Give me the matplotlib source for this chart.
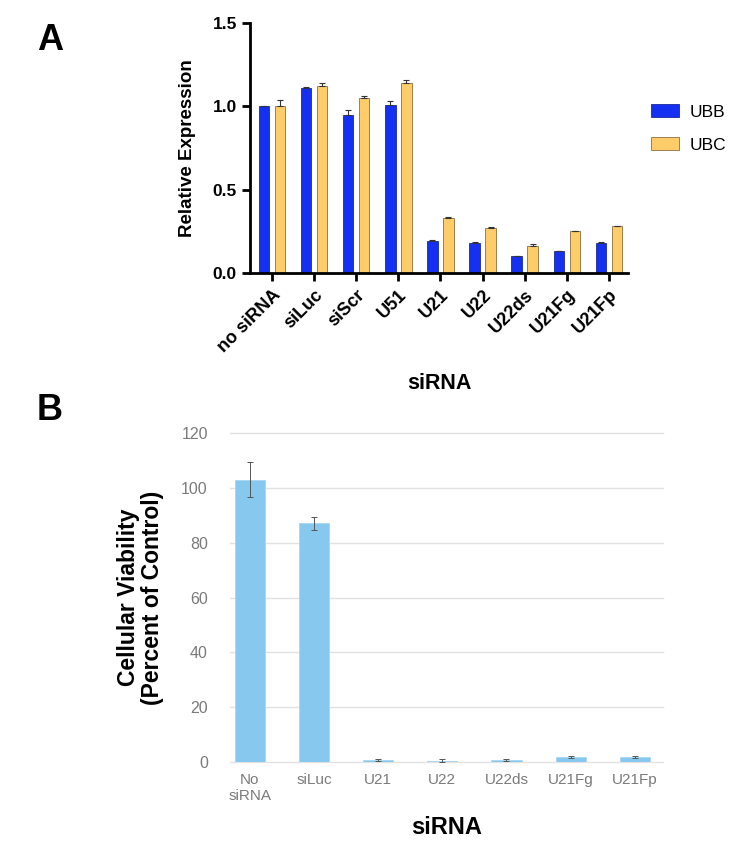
import numpy as np
import matplotlib
matplotlib.use('Agg')
import matplotlib.pyplot as plt

plt.rcParams['font.family'] = ['Liberation Sans', 'DejaVu Sans']

# panel A data
groups_a = ['no siRNA', 'siLuc', 'siScr', 'U51', 'U21', 'U22', 'U22ds', 'U21Fg', 'U21Fp']
ubb = [1.00, 1.11, 0.95, 1.01, 0.19, 0.18, 0.10, 0.13, 0.18]
ubb_err = [0.005, 0.005, 0.03, 0.025, 0.01, 0.005, 0.005, 0.005, 0.005]
ubc = [1.00, 1.12, 1.05, 1.14, 0.33, 0.27, 0.16, 0.25, 0.28]
ubc_err = [0.04, 0.02, 0.015, 0.02, 0.005, 0.005, 0.015, 0.005, 0.005]
series_names = ['UBB', 'UBC']

# panel B data
groups_b = ['No\nsiRNA', 'siLuc', 'U21', 'U22', 'U22ds', 'U21Fg', 'U21Fp']
viability = [103, 87, 0.8, 0.5, 0.8, 1.8, 1.8]
viability_err = [6.5, 2.5, 0.3, 0.5, 0.3, 0.4, 0.4]

W, H = 730, 842
fig = plt.figure(figsize=(W / 100, H / 100), dpi=100)
fig.patch.set_facecolor('white')

def box(l, t, r, b):
    return [l / W, 1 - b / H, (r - l) / W, (b - t) / H]

# ---- panel A ----
ax = fig.add_axes(box(250, 23, 628, 273))
x = np.arange(len(groups_a))
off, bw = 0.19, 0.25
blue = '#1530f0'
yellow = '#ffcc6a'
b1 = ax.bar(x - off, ubb, bw, color=blue, edgecolor='#1a2a9a', linewidth=0.6,
            yerr=[np.zeros(len(ubb)), ubb_err], capsize=2.5,
            error_kw=dict(ecolor='#333333', elinewidth=0.8, capthick=0.8), label=series_names[0])
b2 = ax.bar(x + off, ubc, bw, color=yellow, edgecolor='#8a7040', linewidth=0.6,
            yerr=[np.zeros(len(ubc)), ubc_err], capsize=2.5,
            error_kw=dict(ecolor='#333333', elinewidth=0.8, capthick=0.8), label=series_names[1])
ax.set_xlim(-0.52, 8.45)
ax.set_ylim(0, 1.5)
ax.set_yticks([0, 0.5, 1.0, 1.5])
ax.set_yticklabels(['0.0', '0.5', '1.0', '1.5'])
ax.set_xticks(x)
ax.set_xticklabels(groups_a, rotation=45, ha='right', rotation_mode='anchor')
for s in ['top', 'right']:
    ax.spines[s].set_visible(False)
for s in ['left', 'bottom']:
    ax.spines[s].set_linewidth(2)
ax.tick_params(axis='both', width=2, length=6)
ax.tick_params(axis='y', labelsize=12.5)
ax.tick_params(axis='x', labelsize=13)
for lbl in ax.get_xticklabels() + ax.get_yticklabels():
    lbl.set_fontweight('bold')
ax.set_ylabel('Relative Expression', fontsize=13.5, fontweight='bold')
ax.yaxis.set_label_coords(-0.143, 0.5)
ax.set_xlabel('siRNA', fontsize=15.5, fontweight='bold')
ax.xaxis.set_label_coords(0.5, -0.40)
# legend sits at the right edge, as in the original figure
fig.legend(handles=[b1, b2], labels=series_names, loc='upper left',
           bbox_to_anchor=(651 / W, 1 - 104 / H), frameon=False, fontsize=12.5,
           borderpad=0, borderaxespad=0, handlelength=1.6, handleheight=0.8,
           handletextpad=0.6, labelspacing=1.0)

fig.text(37 / W, 1 - 41 / H, 'A', fontsize=26, fontweight='bold', va='center')
fig.text(37 / W, 1 - 410 / H, 'B', fontsize=26, fontweight='bold', va='center')

# ---- panel B ----
bx = fig.add_axes(box(230, 433, 663, 762))
xb = np.arange(len(groups_b))
bx.bar(xb, viability, 0.47, color='#86c8ee', edgecolor='#a3d5f1', linewidth=0.5,
       yerr=viability_err, capsize=2,
       error_kw=dict(ecolor='#555555', elinewidth=0.7, capthick=0.7), zorder=3)
bx.set_xlim(-0.31, 6.44)
bx.set_ylim(0, 120)
bx.set_yticks(np.arange(0, 121, 20))
bx.yaxis.grid(True, color='#e2e2e2', linewidth=1, zorder=0)
for gl in bx.get_ygridlines():
    gl.set_clip_on(False)
for s in bx.spines.values():
    s.set_visible(False)
bx.set_xticks(xb)
bx.set_xticklabels(groups_b)
bx.tick_params(axis='both', length=0, labelcolor='#7a7a7a')
bx.tick_params(axis='y', pad=16, labelsize=11.5)
bx.tick_params(axis='x', pad=8, labelsize=11)
bx.set_ylabel('Cellular Viability\n(Percent of Control)', fontsize=16.5, fontweight='bold',
              linespacing=1.05)
bx.yaxis.set_label_coords(-0.153, 0.5)
bx.set_xlabel('siRNA', fontsize=17, fontweight='bold')
bx.xaxis.set_label_coords(0.5, -0.165)

fig.savefig('out.png', dpi=100)
